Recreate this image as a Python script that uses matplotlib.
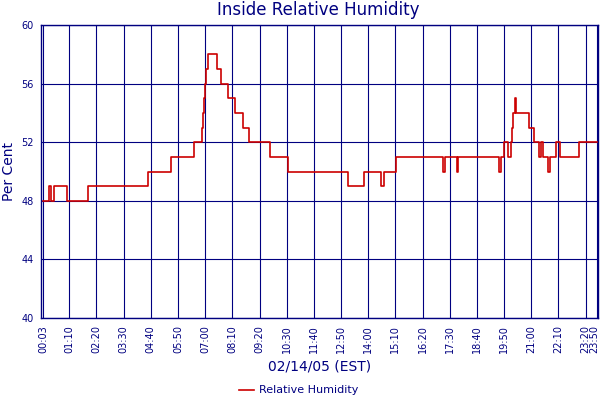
import matplotlib
matplotlib.use("Agg")
import matplotlib.pyplot as plt
from matplotlib.transforms import ScaledTranslation

# relevés humidité intérieure (heure, %)
heures = ["00:03", "00:18", "00:22", "00:30", "01:05", "01:59", "04:32", "05:32",
          "06:31", "06:51", "06:54", "06:56", "06:59", "07:03", "07:08", "07:31",
          "07:40", "07:58", "08:16", "08:37", "08:54", "09:46", "10:33", "13:08",
          "13:48", "14:33", "14:40", "15:11", "17:13", "17:18", "17:48", "17:51",
          "19:37", "19:42", "19:51", "20:01", "20:08", "20:10", "20:13", "20:17",
          "20:21", "20:55", "21:06", "21:20", "21:24", "21:31", "21:44", "21:49",
          "22:05", "22:13", "23:03", "23:53"]
humidite = [48, 49, 48, 49, 48, 49, 50, 51,
            52, 53, 54, 55, 56, 57, 58, 57,
            56, 55, 54, 53, 52, 51, 50, 49,
            50, 49, 50, 51, 50, 51, 50, 51,
            50, 51, 52, 51, 52, 53, 54, 55,
            54, 53, 52, 51, 52, 51, 50, 51,
            52, 51, 52, 52]

ticks_x = ["00:03", "01:10", "02:20", "03:30", "04:40", "05:50", "07:00", "08:10",
           "09:20", "10:30", "11:40", "12:50", "14:00", "15:10", "16:20", "17:30",
           "18:40", "19:50", "21:00", "22:10", "23:20", "23:50"]
ticks_y = [40, 44, 48, 52, 56, 60]


def minutes(hhmm):
    h, m = hhmm.split(":")
    return int(h) * 60 + int(m)


navy = "#000080"
t = [minutes(h) for h in heures]
tx = [minutes(h) for h in ticks_x]

fig = plt.figure(figsize=(6, 4), dpi=100)
ax = fig.add_axes([0.0683, 0.205, 0.929, 0.7325])

ax.plot(t, humidite, color="#cc0000", lw=1.2, drawstyle="steps-post",
        label="Relative Humidity")

ax.set_xlim(-3, 1433)
ax.set_ylim(40, 60)
ax.set_xticks(tx)
ax.set_xticklabels(ticks_x, rotation=90, fontsize=7, color=navy)
ax.set_yticks(ticks_y)
ax.set_yticklabels([str(v) for v in ticks_y], fontsize=7, color=navy)
ax.tick_params(length=0, pad=5)
ax.grid(True, color=navy, lw=0.8)
ax.set_axisbelow(True)
for s in ax.spines.values():
    s.set_color(navy)
    s.set_linewidth(1.0)

# dernier libellé collé au bord droit : on le décale un peu
dernier = ax.get_xticklabels()[-1]
dernier.set_transform(dernier.get_transform()
                      + ScaledTranslation(-3 / 100, 0, fig.dpi_scale_trans))

ax.set_ylabel("Per Cent", fontsize=10, color=navy, labelpad=4)
ax.set_xlabel("02/14/05 (EST)", fontsize=10, color=navy, labelpad=5)
fig.text(0.53, 0.975, "Inside Relative Humidity", ha="center", va="center",
         fontsize=12, color=navy)
fig.legend(loc="center", bbox_to_anchor=(0.497, 0.024), frameon=False,
           fontsize=8, labelcolor=navy, handlelength=1.4, handletextpad=0.4)

fig.savefig("out.png", dpi=100)
